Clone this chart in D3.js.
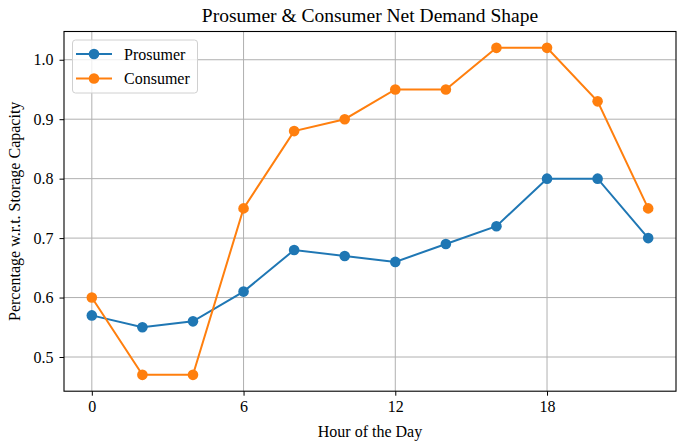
<!DOCTYPE html>
<html><head><meta charset="utf-8">
<script src="https://cdn.jsdelivr.net/npm/d3@7"></script>
<style>body{margin:0;background:#fff}text{font-family:"Liberation Serif","Times New Roman",serif}</style>
</head><body><svg id="c" width="681" height="441"></svg>
<script>
const hours = [0,2,4,6,8,10,12,14,16,18,20,22];
const prosumer = [0.57,0.55,0.56,0.61,0.68,0.67,0.66,0.69,0.72,0.80,0.80,0.70];
const consumer = [0.60,0.47,0.47,0.75,0.88,0.90,0.95,0.95,1.02,1.02,0.93,0.75];
const xTicks = [0,6,12,18];
const yTicks = [0.5,0.6,0.7,0.8,0.9,1.0];
const seriesNames = ["Prosumer","Consumer"];
const colors = ["#1f77b4","#ff7f0e"];

const svg = d3.select("#c");
const L=64, R=676, T=31.5, B=391.2;
const x = d3.scaleLinear().domain([-1.1,23.1]).range([L,R]);
const y = d3.scaleLinear().domain([0.4425,1.0475]).range([B,T]);

// grid
svg.append("g").selectAll("line").data(xTicks).join("line")
  .attr("x1",d=>x(d)).attr("x2",d=>x(d)).attr("y1",T).attr("y2",B)
  .attr("stroke","#b0b0b0").attr("stroke-width",1);
svg.append("g").selectAll("line").data(yTicks).join("line")
  .attr("y1",d=>y(d)).attr("y2",d=>y(d)).attr("x1",L).attr("x2",R)
  .attr("stroke","#b0b0b0").attr("stroke-width",1);

// axes
const xa = svg.append("g").attr("transform",`translate(0,${B})`)
  .call(d3.axisBottom(x).tickValues(xTicks).tickFormat(d3.format("d")).tickSize(4.5).tickPadding(5));
const ya = svg.append("g").attr("transform",`translate(${L},0)`)
  .call(d3.axisLeft(y).tickValues(yTicks).tickFormat(d3.format(".1f")).tickSize(4.5).tickPadding(6));
[xa,ya].forEach(a=>{a.select(".domain").remove();a.selectAll("text").attr("font-size",16).attr("fill","#000").style("font-family","Liberation Serif");a.selectAll("line").attr("stroke","#000");});

svg.append("rect").attr("x",L).attr("y",T).attr("width",R-L).attr("height",B-T)
  .attr("fill","none").attr("stroke","#000").attr("stroke-width",1.1);

const data = [prosumer, consumer];
const line = d3.line().x((d,i)=>x(hours[i])).y(d=>y(d));
data.forEach((s,k)=>{
  svg.append("path").datum(s).attr("d",line).attr("fill","none")
    .attr("stroke",colors[k]).attr("stroke-width",2);
  svg.append("g").selectAll("circle").data(s).join("circle")
    .attr("cx",(d,i)=>x(hours[i])).attr("cy",d=>y(d)).attr("r",5.3).attr("fill",colors[k]);
});

// title & labels
svg.append("text").attr("x",(L+R)/2).attr("y",22).attr("text-anchor","middle")
  .attr("font-size",19.5).text("Prosumer & Consumer Net Demand Shape");
svg.append("text").attr("x",(L+R)/2).attr("y",437).attr("text-anchor","middle")
  .attr("font-size",16).text("Hour of the Day");
svg.append("text").attr("transform",`translate(19.5,${(T+B)/2}) rotate(-90)`).attr("text-anchor","middle")
  .attr("font-size",16).text("Percentage w.r.t. Storage Capacity");

// legend
const lg = svg.append("g");
lg.append("rect").attr("x",72.5).attr("y",40).attr("width",125).attr("height",53).attr("rx",3)
  .attr("fill","#fff").attr("fill-opacity",0.8).attr("stroke","#d0d0d0");
seriesNames.forEach((n,k)=>{
  const yy = 54 + k*24.5;
  lg.append("line").attr("x1",76).attr("x2",112).attr("y1",yy).attr("y2",yy).attr("stroke",colors[k]).attr("stroke-width",2);
  lg.append("circle").attr("cx",94).attr("cy",yy).attr("r",5.3).attr("fill",colors[k]);
  lg.append("text").attr("x",124).attr("y",yy+5.5).attr("font-size",16).text(n);
});
</script></body></html>
